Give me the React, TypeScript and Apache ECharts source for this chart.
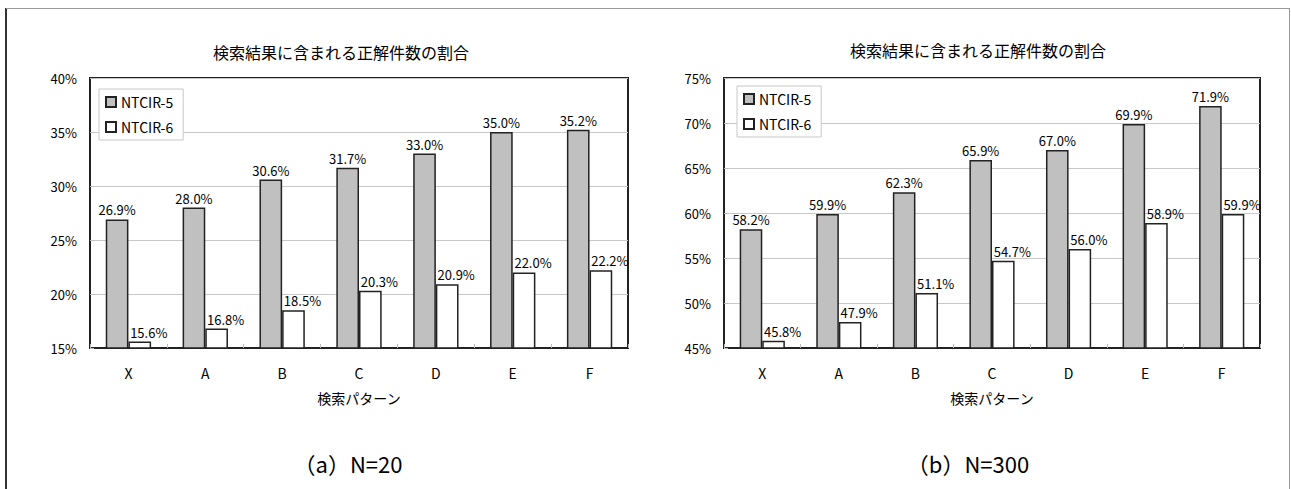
import React, { useEffect, useRef } from "react";
import * as echarts from "echarts";

const categories = ["X", "A", "B", "C", "D", "E", "F"];
const seriesNames = ["NTCIR-5", "NTCIR-6"];
const n20Ntcir5 = [26.9, 28.0, 30.6, 31.7, 33.0, 35.0, 35.2];
const n20Ntcir6 = [15.6, 16.8, 18.5, 20.3, 20.9, 22.0, 22.2];
const n300Ntcir5 = [58.2, 59.9, 62.3, 65.9, 67.0, 69.9, 71.9];
const n300Ntcir6 = [45.8, 47.9, 51.1, 54.7, 56.0, 58.9, 59.9];
const chartTitle = "検索結果に含まれる正解件数の割合";
const axisName = "検索パターン";
const captions = ["（a）N=20", "（b）N=300"];
const yRanges = [
  { min: 15, max: 40 },
  { min: 45, max: 75 },
];

const FONT = '"Noto Sans CJK JP", "Noto Sans", sans-serif';

export default function App() {
  const ref = useRef<HTMLDivElement>(null);
  useEffect(() => {
    if (!ref.current) return;
    const chart = echarts.init(ref.current, undefined, { renderer: "svg" });

    const grids = [
      { left: 90, top: 78, width: 538, height: 270 },
      { left: 724, top: 78, width: 536, height: 270 },
    ];
    const data = [
      [n20Ntcir5, n20Ntcir6],
      [n300Ntcir5, n300Ntcir6],
    ];

    const xAxes = grids.map((_, i) => ({
      type: "category",
      gridIndex: i,
      data: categories,
      name: axisName,
      nameLocation: "middle",
      nameGap: 43,
      nameTextStyle: { color: "#000", fontSize: 14, fontFamily: FONT },
      axisLine: { show: true, lineStyle: { color: "#222", width: 2 } },
      axisTick: {
        show: true,
        inside: true,
        length: 4,
        lineStyle: { color: "#bbb" },
      },
      axisLabel: { color: "#000", fontSize: 14, fontFamily: FONT, margin: 18 },
      splitLine: { show: false },
    }));

    const yAxes = grids.map((_, i) => ({
      type: "value",
      gridIndex: i,
      min: yRanges[i].min,
      max: yRanges[i].max,
      interval: 5,
      axisLine: { show: false },
      axisTick: {
        show: true,
        inside: true,
        length: 4,
        lineStyle: { color: "#bbb" },
      },
      axisLabel: {
        color: "#000",
        fontSize: 13,
        fontFamily: FONT,
        margin: 13,
        formatter: (v: number) => `${v}%`,
      },
      splitLine: { show: true, lineStyle: { color: "#c8c8c8", width: 1 } },
    }));

    const series: any[] = [];
    grids.forEach((_, i) => {
      seriesNames.forEach((name, j) => {
        series.push({
          type: "bar",
          name,
          xAxisIndex: i,
          yAxisIndex: i,
          data: data[i][j],
          barGap: "0%",
          barCategoryGap: "41%",
          itemStyle: {
            color: j === 0 ? "#c0c0c0" : "#ffffff",
            borderColor: "#222",
            borderWidth: 1.5,
          },
          label: {
            show: true,
            position: "top",
            distance: 3,
            offset: j === 1 ? [9, 0] : [0, 0],
            color: "#000",
            fontSize: 13,
            fontFamily: FONT,
            formatter: (p: any) => `${Number(p.value).toFixed(1)}%`,
          },
        });
      });
    });

    const legendPos = [
      { left: 99, top: 89 },
      { left: 737, top: 86 },
    ];
    const legends = legendPos.map((p) => ({
      left: p.left,
      top: p.top,
      orient: "vertical",
      data: seriesNames,
      icon: "rect",
      itemWidth: 10,
      itemHeight: 10,
      itemGap: 11,
      padding: [6, 10, 6, 6],
      borderColor: "#c8c8c8",
      borderWidth: 1,
      backgroundColor: "#fff",
      selectedMode: false,
      textStyle: { color: "#000", fontSize: 14, fontFamily: FONT },
    }));

    const graphic: any[] = [
      {
        type: "line",
        shape: { x1: 6, y1: 8, x2: 6, y2: 489 },
        style: { stroke: "#333", lineWidth: 2 },
      },
      {
        type: "line",
        shape: { x1: 6, y1: 8.5, x2: 1290, y2: 8.5 },
        style: { stroke: "#999", lineWidth: 1 },
      },
      {
        type: "line",
        shape: { x1: 1289.5, y1: 8, x2: 1289.5, y2: 489 },
        style: { stroke: "#999", lineWidth: 1 },
      },
      {
        type: "text",
        x: 341,
        y: 52,
        style: {
          text: chartTitle,
          align: "center",
          verticalAlign: "middle",
          fontSize: 16,
          fontFamily: FONT,
          fill: "#000",
        },
      },
      {
        type: "text",
        x: 978,
        y: 50,
        style: {
          text: chartTitle,
          align: "center",
          verticalAlign: "middle",
          fontSize: 16,
          fontFamily: FONT,
          fill: "#000",
        },
      },
      {
        type: "text",
        x: 348,
        y: 463,
        style: {
          text: captions[0],
          align: "center",
          verticalAlign: "middle",
          fontSize: 22,
          fontFamily: FONT,
          fill: "#000",
        },
      },
      {
        type: "text",
        x: 968,
        y: 463,
        style: {
          text: captions[1],
          align: "center",
          verticalAlign: "middle",
          fontSize: 22,
          fontFamily: FONT,
          fill: "#000",
        },
      },
    ];

    chart.setOption({
      animation: false,
      backgroundColor: "#fff",
      textStyle: { fontFamily: FONT },
      grid: grids.map((g) => ({
        ...g,
        show: true,
        borderColor: "#222",
        borderWidth: 2,
        backgroundColor: "transparent",
      })),
      xAxis: xAxes,
      yAxis: yAxes,
      legend: legends,
      series,
      graphic,
    });

    return () => chart.dispose();
  }, []);

  return (
    <div
      ref={ref}
      style={{
        position: "absolute",
        left: 0,
        top: 0,
        width: 1291,
        height: 489,
        background: "#fff",
      }}
    />
  );
}
